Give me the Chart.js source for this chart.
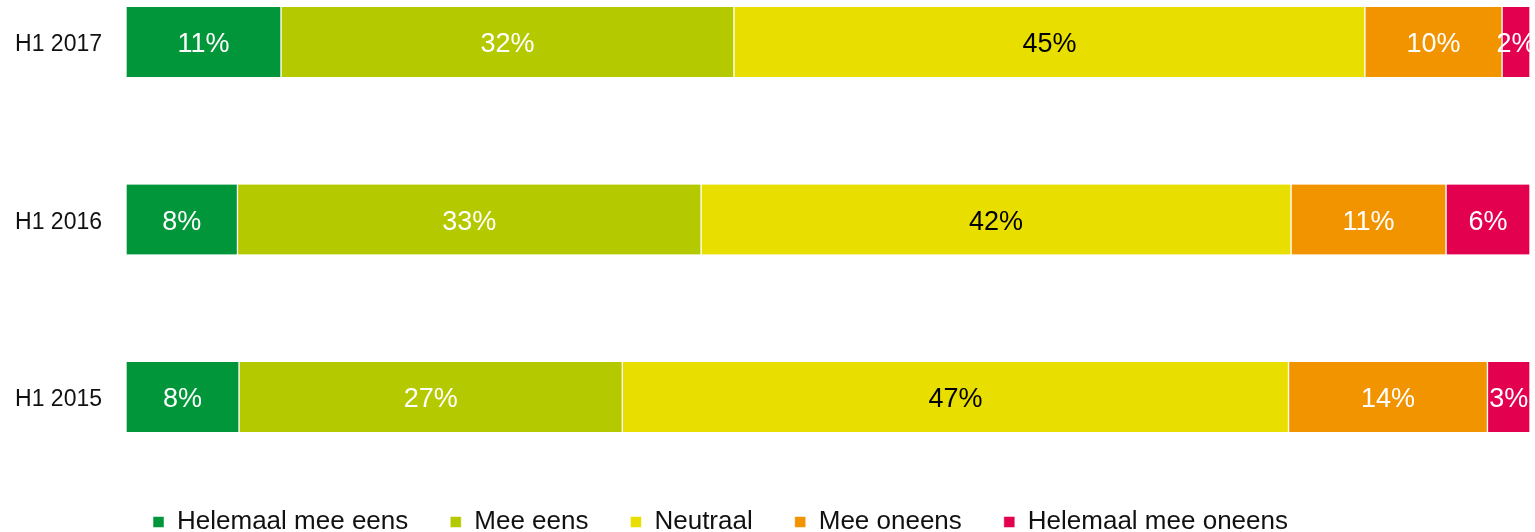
<!DOCTYPE html>
<html>
<head>
<meta charset="utf-8">
<title>Mee eens / oneens</title>
<script src="https://cdn.jsdelivr.net/npm/chart.js@4"></script>
<style>
  html, body { margin: 0; padding: 0; background: #fff; }
  #wrap { width: 1535px; height: 532px; }
</style>
</head>
<body>
<div id="wrap"><canvas id="chart"></canvas></div>
<script>
// Categories (top to bottom)
const periods = ['H1 2017', 'H1 2016', 'H1 2015'];

// Answer categories (legend order)
const answers = ['Helemaal mee eens', 'Mee eens', 'Neutraal', 'Mee oneens', 'Helemaal mee oneens'];

// Shares in % per answer, one value per period
const helemaalEens = [11.04, 7.94, 8.05];
const meeEens = [32.26, 33.02, 27.3];
const neutraal = [44.94, 42.02, 47.45];
const meeOneens = [9.77, 11.04, 14.17];
const helemaalOneens = [1.99, 5.98, 3.03];

const colors = ['#009639', '#B5C900', '#E8DF00', '#F29400', '#E2004F'];
const labelColors = ['#fff', '#fff', '#000', '#fff', '#fff'];

const fontFamily = "'Liberation Sans', Arial, Helvetica, sans-serif";

const series = [helemaalEens, meeEens, neutraal, meeOneens, helemaalOneens];
const datasets = series.map((values, i) => ({
  label: answers[i],
  data: values,
  backgroundColor: colors[i],
  borderColor: '#fff',
  borderWidth: { left: 1, right: 1, top: 0, bottom: 0 },
  borderSkipped: false,
  barThickness: 70,
  clip: false
}));

// Percentage labels in the middle of every segment
const segmentLabels = {
  id: 'segmentLabels',
  afterDatasetsDraw(chart) {
    const ctx = chart.ctx;
    ctx.save();
    ctx.font = '27px ' + fontFamily;
    ctx.textAlign = 'center';
    ctx.textBaseline = 'middle';
    chart.data.datasets.forEach((ds, i) => {
      const meta = chart.getDatasetMeta(i);
      meta.data.forEach((bar, j) => {
        const p = bar.getCenterPoint();
        ctx.fillStyle = labelColors[i];
        ctx.fillText(Math.round(ds.data[j]) + '%', p.x, p.y + 3);
      });
    });
    ctx.restore();
  }
};

// The legend sits a bit left of centre in the original
const shiftLegend = {
  id: 'shiftLegend',
  afterLayout(chart) {
    chart.legend.right -= 89;
  }
};

const ctx = document.getElementById('chart').getContext('2d');
const chart = new Chart(ctx, {
  type: 'bar',
  data: {
    labels: periods,
    datasets: datasets
  },
  plugins: [segmentLabels, shiftLegend],
  options: {
    indexAxis: 'y',
    responsive: true,
    maintainAspectRatio: false,
    animation: false,
    layout: {
      padding: { top: 42, right: 5, bottom: -13, left: 0 }
    },
    scales: {
      x: {
        stacked: true,
        min: 0,
        max: 100,
        grid: { display: false },
        border: { display: false },
        ticks: { display: false },
        afterFit(scale) { scale.height = 70; }
      },
      y: {
        stacked: true,
        offset: false,
        grid: { display: false, drawTicks: false },
        border: { display: false },
        ticks: {
          color: '#111',
          padding: 24,
          labelOffset: 3,
          font: { family: fontFamily, size: 23 }
        },
        afterFit(scale) { scale.width = 126; }
      }
    },
    plugins: {
      legend: {
        position: 'bottom',
        labels: {
          boxWidth: 11,
          boxHeight: 11,
          padding: 42,
          color: '#111',
          font: { family: fontFamily, size: 26 }
        }
      },
      tooltip: { enabled: false }
    }
  }
});
</script>
</body>
</html>
